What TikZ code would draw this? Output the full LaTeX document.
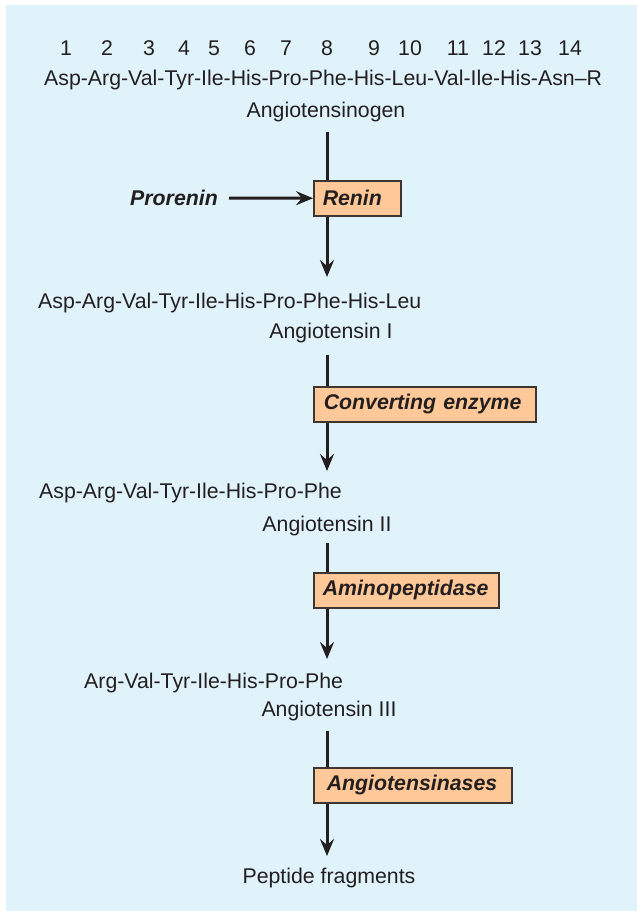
\documentclass[tikz,border=0pt]{standalone}
\usepackage{fontspec}
\setmainfont{Liberation Sans}
\usetikzlibrary{arrows.meta}
\definecolor{bgblue}{HTML}{E0F3FB}
\definecolor{boxfill}{HTML}{FFC898}
\definecolor{boxline}{HTML}{3E3530}
\definecolor{ink}{HTML}{231F20}
\begin{document}
\begin{tikzpicture}[x=1pt,y=-1pt,
  every node/.style={text=ink,font=\fontsize{21.3}{25}\selectfont,inner sep=0pt},
  enz/.style={draw=boxline,fill=boxfill,line width=1.5pt,minimum height=35pt,
    inner xsep=0pt,inner ysep=0pt,align=left,anchor=north west,
    font=\fontsize{21.3}{25}\selectfont\bfseries\itshape},
  flow/.style={draw=ink,line width=3pt},
  flowarrow/.style={flow,-{Stealth[length=17pt,width=14pt,inset=6pt]}},
  seq/.style={anchor=west}]
\useasboundingbox (0,0) rectangle (637,911);
\fill[bgblue] (6,5) rectangle (637,911);
% residue numbers
\foreach \n/\x in {1/66,2/107,3/149,4/184,5/214,6/250,7/286,8/327,9/374,10/410,11/458,12/494,13/530,14/570}
  \node (num\n) at (\x,48) {\n};
% sequences and labels
\node[seq] (seq0) at (44,80) {Asp-Arg-Val-Tyr-Ile-His-Pro-Phe-His-Leu-Val-Ile-His-Asn--R};
\node (agen) at (326,112) {Angiotensinogen};
\node[seq] (seq1) at (38,303) {Asp-Arg-Val-Tyr-Ile-His-Pro-Phe-His-Leu};
\node (ang1) at (331,333) {Angiotensin I};
\node[seq] (seq2) at (39,493) {Asp-Arg-Val-Tyr-Ile-His-Pro-Phe};
\node (ang2) at (327,526) {Angiotensin II};
\node[seq] (seq3) at (84,683) {Arg-Val-Tyr-Ile-His-Pro-Phe};
\node (ang3) at (329,711) {Angiotensin III};
\node (frag) at (329,878) {Peptide fragments};
% enzyme boxes
\node[enz,minimum width=87pt,text width=87pt] (renin) at (313,180) {\hspace*{9pt}Renin};
\node[enz,minimum width=222pt,text width=222pt] (ace) at (313,386) {\hspace*{10pt}Converting enzyme};
\node[enz,minimum width=185pt,text width=185pt] (amino) at (313,572) {\hspace*{9pt}Aminopeptidase};
\node[enz,minimum width=198pt,text width=198pt] (tases) at (313,767) {\hspace*{13pt}Angiotensinases};
\node[anchor=east,font=\fontsize{21.3}{25}\selectfont\bfseries\itshape] (pro) at (218,198) {Prorenin};
% column coordinates
\coordinate (s0) at (327,132);
\coordinate (e0) at (327,277);
\coordinate (s1) at (327,355);
\coordinate (e1) at (327,471);
\coordinate (s2) at (327,543);
\coordinate (e2) at (327,659);
\coordinate (s3) at (327,731);
\coordinate (e3) at (327,856);
% connectors
\draw[flow] (s0) -- (s0 |- renin.north);
\draw[flowarrow] (s0 |- renin.south) -- (e0);
\draw[flow] (s1) -- (s1 |- ace.north);
\draw[flowarrow] (s1 |- ace.south) -- (e1);
\draw[flow] (s2) -- (s2 |- amino.north);
\draw[flowarrow] (s2 |- amino.south) -- (e2);
\draw[flow] (s3) -- (s3 |- tases.north);
\draw[flowarrow] (s3 |- tases.south) -- (e3);
\draw[flowarrow] ([xshift=11pt]pro.east) -- (renin.west);
\end{tikzpicture}
\end{document}
